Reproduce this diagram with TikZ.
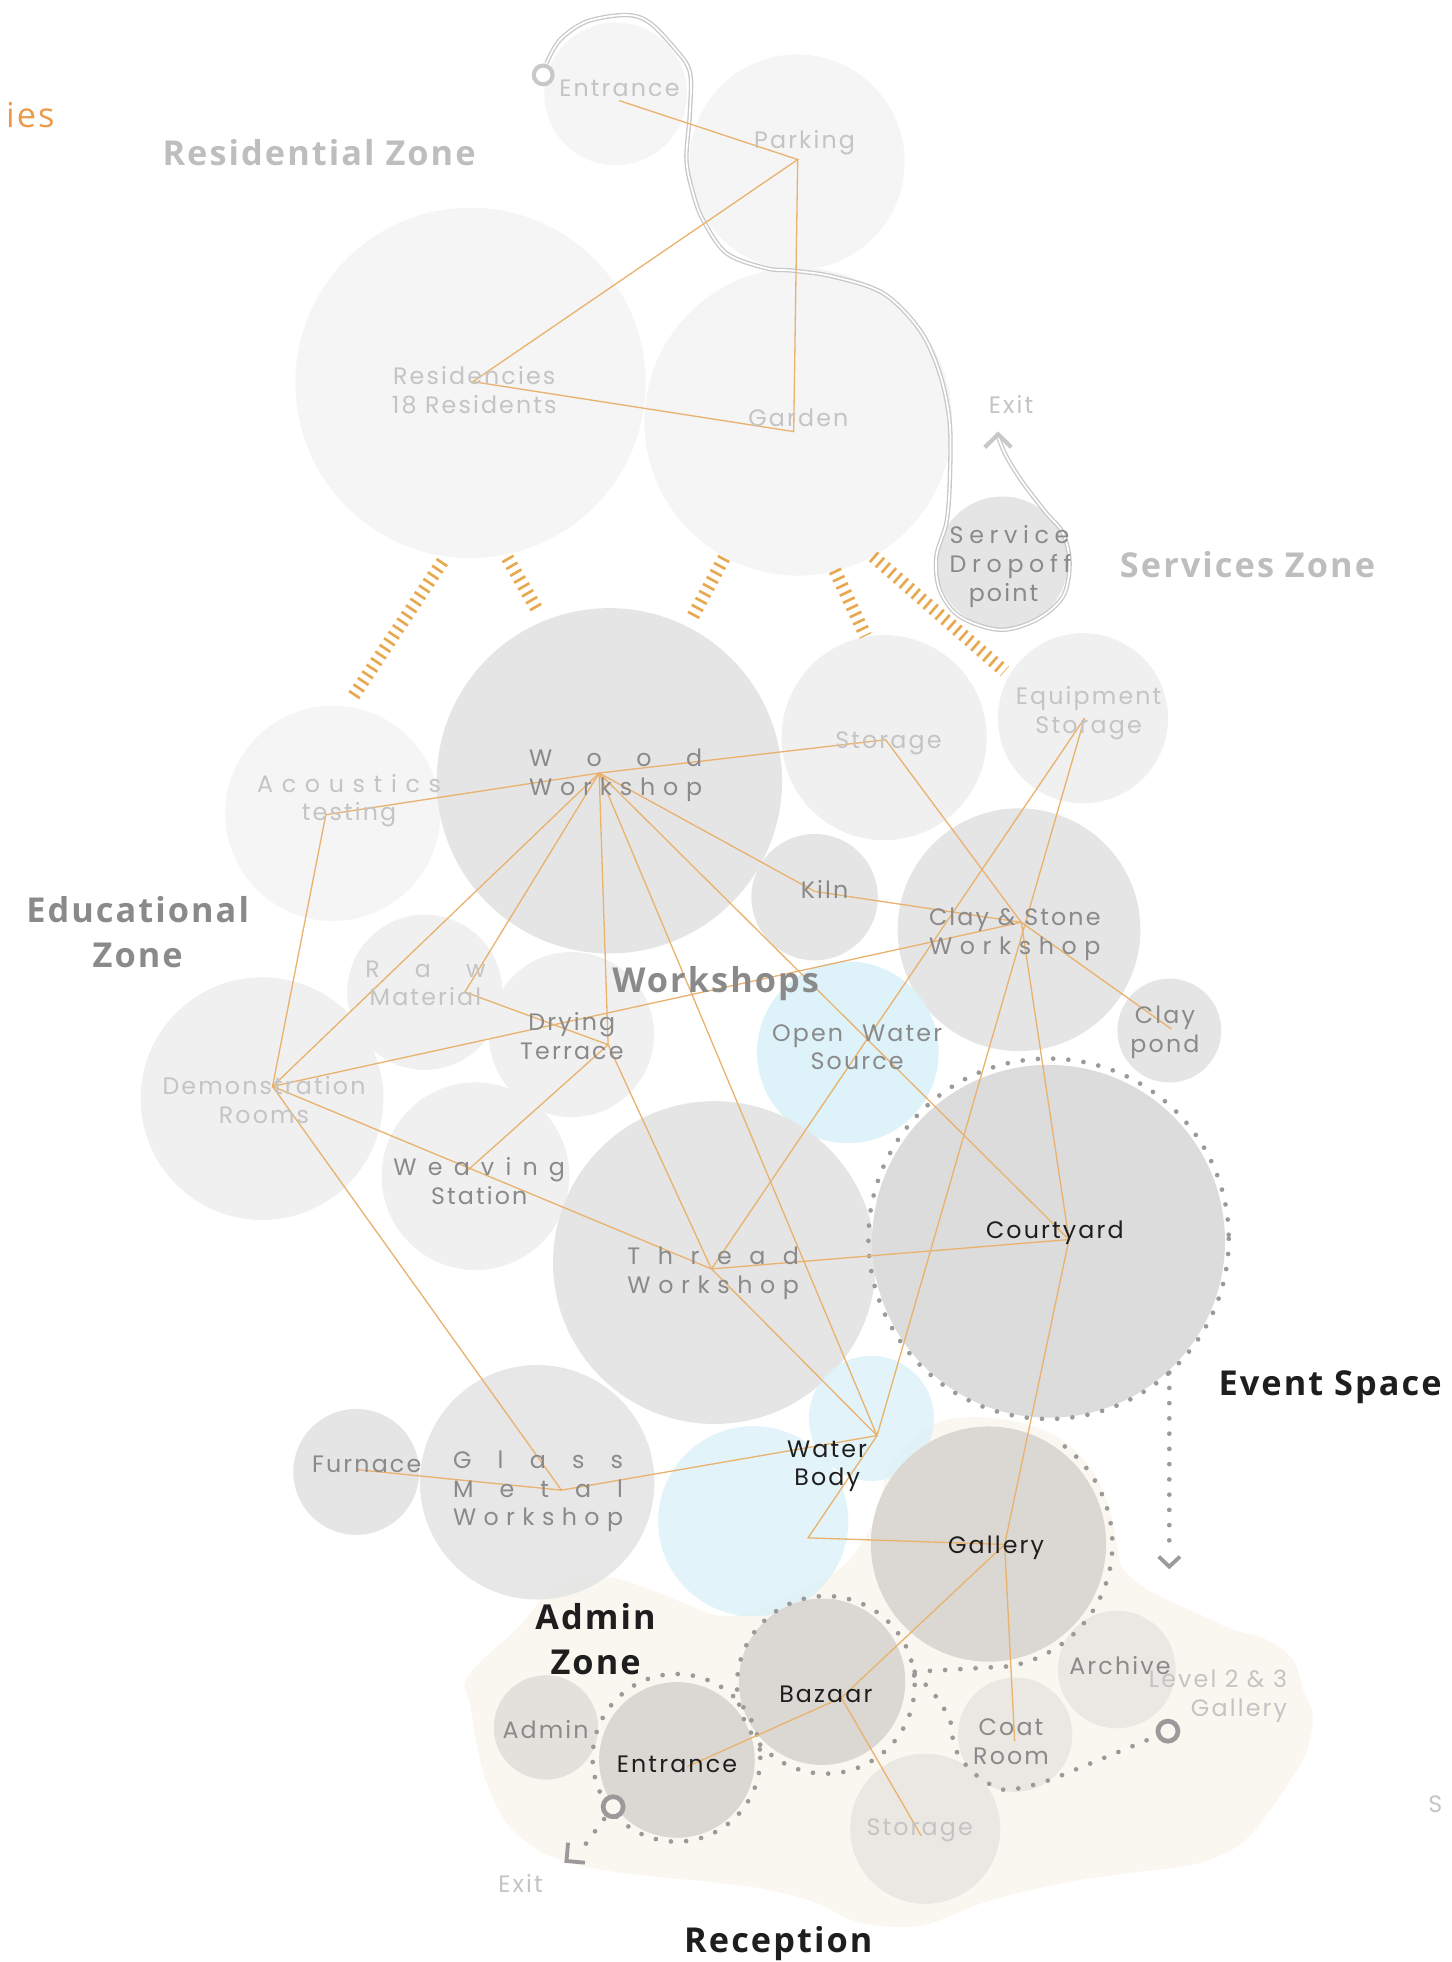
\documentclass[tikz,border=0pt]{standalone}
\usepackage{fontspec}
\setmainfont{Poppins}
\newfontfamily\lblfont{Poppins}[LetterSpace=9]
\newfontfamily\zonefont{Open Sans}[LetterSpace=6]
\usetikzlibrary{positioning}

\definecolor{resfill}{HTML}{F5F5F5}
\definecolor{lightfill}{HTML}{F0F0F0}
\definecolor{shopfill}{HTML}{E5E5E5}
\definecolor{yardfill}{HTML}{DCDCDC}
\definecolor{waterfill}{HTML}{DDF2F9}
\definecolor{warmfill}{HTML}{DBD8D4}
\definecolor{palewarm}{HTML}{EBE8E3}
\definecolor{adminfill}{HTML}{E4E1DC}
\definecolor{blobfill}{HTML}{FAF6F0}
\definecolor{linkorange}{HTML}{E9B26E}
\definecolor{hatchorange}{HTML}{E8A850}
\definecolor{dotgray}{HTML}{9A9A9A}
\definecolor{roadgray}{HTML}{C8C8C8}
\definecolor{lighttext}{HTML}{C4C4C4}
\definecolor{midtext}{HTML}{8A8A8A}
\definecolor{darktext}{HTML}{1E1E1E}
\definecolor{zonegray}{HTML}{BEBEBE}
\definecolor{iesorange}{HTML}{EB9A4A}

\tikzset{
  link/.style={draw=linkorange, line width=0.45pt},
  hatchline/.style={draw=hatchorange, line width=4.4pt, dash pattern=on 0.9pt off 1.8pt},
  dotring/.style={draw=dotgray, line width=1.6pt, line cap=round, dash pattern=on 0pt off 5.2pt},
  road/.style={draw=roadgray, double=white, double distance=0.6pt, line width=0.45pt},
  lbl/.style={font=\lblfont\fontsize{8.1}{9.8}\selectfont, align=center, inner sep=0pt, yshift=-0.8pt},
  zone/.style={font=\zonefont\bfseries\fontsize{11.7}{15.4}\selectfont, align=center, inner sep=0pt},
  icon/.style={draw=dotgray, line width=1.6pt}
}
\newcommand{\spreadword}[2]{\makebox[#1][s]{#2}}

\begin{document}
\begin{tikzpicture}[x=0.015cm,y=-0.015cm]
\useasboundingbox (0,0) rectangle (1160,1568);

% reception zone
\fill[blobfill] plot[smooth cycle, tension=0.6] coordinates {(371.5,1344.8) (386,1326) (412.8,1302.2) (447.4,1264.9) (487.3,1260.9) (519.3,1270.3) (545.9,1280.9) (577.9,1291.6) (612.5,1283.6) (652.5,1264.9) (679.1,1246.3) (700.4,1211.7) (712,1170) (745.7,1138.4) (791,1133.1) (838.9,1145.1) (868.2,1169.1) (884.2,1198.4) (892.1,1230.3) (896.1,1251.6) (910.8,1266.3) (932.1,1278.3) (958.7,1290.2) (985.3,1302.2) (1012,1310.2) (1033.2,1326.2) (1041.2,1350.2) (1049.2,1372) (1043.9,1400.7) (1033.2,1419.4) (1017.3,1443.4) (998.6,1467.3) (980,1480.6) (953.4,1490) (905.4,1496.6) (865.5,1502) (825.5,1510) (785.6,1520.6) (740,1538) (705.7,1539.3) (679,1533.9) (652.5,1520.6) (612.5,1510) (572.6,1504.6) (519.3,1499.3) (479.3,1494) (447.4,1486) (428.8,1478) (404.8,1456.6) (388.8,1424.7) (380.8,1392.7) (375.5,1360.8)};

% residential zone
\fill[resfill] (492,75) circle (57);
\fill[resfill] (637,129.5) circle (86);
\fill[resfill] (376,306) circle (140);
\fill[resfill] (638,337) circle (123);
\fill[shopfill] (801,449.4) circle (52.6);

% workshops
\fill[resfill] (266,650) circle (86);
\fill[shopfill] (487,624) circle (138);
\fill[lightfill] (706.6,589.5) circle (82);
\fill[lightfill] (865.5,574) circle (68);
\fill[shopfill] (651,717) circle (50.5);
\fill[shopfill] (814.4,743) circle (97);
\fill[lightfill] (339.5,793) circle (62);
\fill[lightfill] (456.7,826.8) circle (66);
\fill[waterfill] (677.6,841) circle (72.6);
\fill[shopfill] (934.5,823.6) circle (41.5);
\fill[lightfill] (209.4,878) circle (97);
\fill[lightfill] (380,940) circle (75);
\fill[shopfill] (571,1009) circle (129);
\fill[yardfill] (838,992) circle (141);
\fill[waterfill, opacity=0.85] (696.4,1133.5) circle (50);
\fill[shopfill] (284.7,1176.3) circle (50.3);
\fill[shopfill, opacity=0.92] (429.3,1184.6) circle (93.7);
\fill[waterfill, opacity=0.85] (602,1215.7) circle (76);

% reception rooms
\fill[warmfill] (790,1234) circle (94);
\fill[warmfill] (657,1344) circle (66.5);
\fill[adminfill] (436.3,1380.5) circle (41.7);
\fill[warmfill] (541,1406.5) circle (62.2);
\fill[palewarm] (811.3,1386.3) circle (45.7);
\fill[palewarm] (892.5,1334.2) circle (47);
\fill[palewarm] (739.4,1461.5) circle (60);

% hatches between zones
\coordinate (h1a) at (282.7,556);   \coordinate (h1b) at (355.5,446);
\coordinate (h2a) at (405.4,445.8); \coordinate (h2b) at (430,488.6);
\coordinate (h3a) at (578.7,445.8); \coordinate (h3b) at (552,495.8);
\coordinate (h4a) at (667.2,455.8); \coordinate (h4b) at (691.8,508.2);
\coordinate (h5a) at (697.7,444.7); \coordinate (h5b) at (802.9,536.6);
\draw[hatchline] (h1a) -- (h1b);
\draw[hatchline] (h2a) -- (h2b);
\draw[hatchline] (h3a) -- (h3b);
\draw[hatchline] (h4a) -- (h4b);
\draw[hatchline] (h5a) -- (h5b);

% service road
\draw[road] plot[smooth, tension=0.55] coordinates {(436.7,50.6) (447.4,32) (468.7,17.3) (499.3,12) (518,17.3) (538,37.3) (551.3,57.3) (551.3,90.5) (548.6,127.8) (553.9,154.4) (561.9,175.8) (580.6,202.4) (612.5,214.4) (633.8,216.3) (665.8,221) (705.7,234.3) (735,263.6) (751,298.3) (759,338) (759,386) (756.3,418) (748.3,444.8) (751,471.4) (767,492.7) (799,503.3) (828.2,495.3) (849.5,476.7) (854.8,450) (849.5,426) (836.2,410) (817.6,386) (804.3,364.8) (797.6,349)};
\coordinate (exT) at (797.6,347);
\draw[roadgray, line width=1.4pt] (787,357.5) -- (exT) -- (808.2,357.5);
\draw[draw=roadgray, line width=1.4pt, fill=white] (434.1,59.9) circle (7.5);

% dotted routes
\draw[dotring] (838,990) circle (144);
\draw[dotring] (790,1234) ++(-52:99) arc (-52:80:99);
\draw[dotring] (660,1346.5) circle (71);
\draw[dotring] (540.6,1404.8) circle (67);
\draw[dotring] (731,1336) -- (810,1331.5);
\draw[dotring] plot[smooth] coordinates {(731,1338) (745.7,1352.8) (759,1374.1) (763,1396.7) (776.3,1415.4) (796.3,1428.7) (809.6,1430) (836.2,1423.4) (869.5,1410.1) (914.7,1391.5) (924,1387.5)};
\coordinate (lvIcon) at (933.4,1383.5);
\draw[icon, fill=blobfill] (lvIcon) circle (8);
\coordinate (enIcon) at (490,1443.9);
\draw[dotring] (enIcon) -- (463.9,1479.3);
\draw[icon, fill=blobfill] (enIcon) circle (8);
\coordinate (enExit) at (452.7,1487.3);
\draw[dotgray, line width=1.3pt] (454,1472.6) -- (enExit) -- (467.4,1488.6);
\coordinate (evTop) at (934.5,1097);
\coordinate (evTip) at (934.5,1252);
\draw[dotring] (evTop) -- (934.5,1243);
\draw[dotgray, line width=1.3pt] (926,1244) -- (evTip) -- (943,1244);

% link points
\coordinate (eA) at (494.8,80.4);
\coordinate (pk) at (637.5,127.5);
\coordinate (rs) at (377.9,305);
\coordinate (gd) at (634.3,344.9);
\coordinate (ww) at (478.8,617.8);
\coordinate (st) at (707.8,591.2);
\coordinate (eq) at (866.8,573.9);
\coordinate (ac) at (260.4,651.1);
\coordinate (kl) at (651.1,712.4);
\coordinate (cs) at (816.2,737.1);
\coordinate (rm) at (371.5,792.8);
\coordinate (dt) at (486,834.9);
\coordinate (cp) at (936.1,822.3);
\coordinate (dr) at (217.8,868.2);
\coordinate (ws) at (372.8,936.1);
\coordinate (tw) at (568.6,1014.1);
\coordinate (cy) at (854.3,990.6);
\coordinate (wb) at (700.9,1147.3);
\coordinate (wbk) at (645.8,1229);
\coordinate (gm) at (448.7,1190.9);
\coordinate (fu) at (284.4,1174.4);
\coordinate (ga) at (802.9,1234.3);
\coordinate (bz) at (672.4,1356.8);
\coordinate (en) at (549.1,1411.9);
\coordinate (cr) at (810.9,1391.5);
\coordinate (sb) at (736.3,1467.3);

\draw[link] (eA) -- (pk) -- (rs) -- (gd) -- (pk);
\draw[link] (ww) -- (st) -- (cs);
\draw[link] (ww) -- (ac) -- (dr) -- (ww);
\draw[link] (ww) -- (rm) -- (dt) -- (ww);
\draw[link] (ww) -- (kl) -- (cs);
\draw[link] (ww) -- (cy);
\draw[link] (ww) -- (wb);
\draw[link] (dr) -- (cs);
\draw[link] (dr) -- (tw);
\draw[link] (dr) -- (gm);
\draw[link] (dt) -- (ws);
\draw[link] (dt) -- (tw);
\draw[link] (cs) -- (cp);
\draw[link] (cs) -- (cy);
\draw[link] (eq) -- (tw);
\draw[link] (eq) -- (wb);
\draw[link] (tw) -- (cy);
\draw[link] (tw) -- (wb);
\draw[link] (cy) -- (ga);
\draw[link] (wb) -- (wbk) -- (ga);
\draw[link] (fu) -- (gm) -- (wb);
\draw[link] (ga) -- (bz) -- (en);
\draw[link] (bz) -- (sb);
\draw[link] (ga) -- (cr);

% room labels
\node[lbl, text=lighttext] (tEntT) at (495,69) {Entrance};
\node[lbl, text=lighttext] (tPark) at (643,112) {Parking};
\node[lbl, text=lighttext] (tRes) at (379,310) {Residencies\\18 Residents};
\node[lbl, text=lighttext] (tGard) at (638,332) {Garden};
\node[lbl, text=midtext] (tServ) at (802,451) {\spreadword{36.7pt}{S e r v i c e}\\\spreadword{36.7pt}{D r o p o f f}\\point};
\node[lbl, text=lighttext] (tExT) at (808,321) {Exit};
\node[lbl, text=midtext] (tWood) at (492,618) {\spreadword{59pt}{W o o d}\\\spreadword{59pt}{W o r k s h o p}};
\node[lbl, text=lighttext] (tStor) at (710,592) {Storage};
\node[lbl, text=lighttext] (tEquip) at (870,568) {Equipment\\Storage};
\node[lbl, text=lighttext] (tAcou) at (279,638) {\spreadword{62.7pt}{A c o u s t i c s}\\testing};
\node[lbl, text=midtext] (tKiln) at (659,709) {Kiln};
\node[lbl, text=midtext] (tClay) at (811,745) {\spreadword{58.5pt}{Clay \& Stone}\\\spreadword{58.5pt}{W o r k s h o p}};
\node[lbl, text=lighttext] (tRaw) at (340,784) {\spreadword{41pt}{R a w}\\Material};
\node[lbl, text=midtext] (tDry) at (457,826) {Drying\\Terrace};
\node[lbl, text=midtext] (tOpen) at (685,835) {\spreadword{58pt}{Open Water}\\Source};
\node[lbl, text=midtext] (tPond) at (931,823) {Clay\\pond};
\node[lbl, text=lighttext] (tDemo) at (211,877) {Demonstration\\Rooms};
\node[lbl, text=midtext] (tWeav) at (383,942) {\spreadword{58.5pt}{W e a v i n g}\\Station};
\node[lbl, text=midtext] (tThr) at (570,1016) {\spreadword{58.5pt}{T h r e a d}\\\spreadword{58.5pt}{W o r k s h o p}};
\node[lbl, text=darktext] (tYard) at (843,983) {Courtyard};
\node[lbl, text=darktext] (tWat) at (661,1170) {Water\\Body};
\node[lbl, text=midtext] (tFurn) at (293,1168) {Furnace};
\node[lbl, text=midtext] (tGlass) at (430,1190) {\spreadword{58pt}{G l a s s}\\\spreadword{58pt}{M e t a l}\\\spreadword{58pt}{W o r k s h o p}};
\node[lbl, text=darktext] (tGall) at (796,1235) {Gallery};
\node[lbl, text=darktext] (tBaz) at (660,1352) {Bazaar};
\node[lbl, text=midtext] (tAdm) at (436,1380) {Admin};
\node[lbl, text=darktext] (tEntB) at (541,1408) {Entrance};
\node[lbl, text=midtext] (tCoat) at (808,1390) {Coat\\Room};
\node[lbl, text=midtext] (tArch) at (895,1329) {Archive};
\node[lbl, text=lighttext] (tStB) at (735,1461) {Storage};
\node[lbl, text=lighttext, align=right, anchor=east] (tLvl) at (1029,1354) {Level 2 \& 3\\Gallery};
\node[lbl, text=lighttext] (tExB) at (416,1503) {Exit};
\node[lbl, text=lighttext, anchor=west] (tS) at (1141,1440) {S};

% zone titles
\node[zone, text=iesorange, font=\zonefont\fontsize{11.7}{15.4}\selectfont, anchor=east] (zIes) at (44,92) {ies};
\node[zone, text=zonegray] (zRes) at (255,122) {Residential Zone};
\node[zone, text=zonegray] (zServ) at (997,451) {Services Zone};
\node[zone, text=midtext, font=\zonefont\bfseries\fontsize{11.7}{15.4}\selectfont] (zEdu) at (110,745) {Educational\\Zone};
\node[zone, text=midtext] (zShop) at (572,786) {Workshops};
\node[zone, text=darktext] (zEvent) at (1063,1109) {Event Space};
\node[zone, text=darktext] (zAdm) at (476,1310) {Admin\\Zone};
\node[zone, text=darktext] (zRec) at (622,1553) {Reception};
\end{tikzpicture}
\end{document}
